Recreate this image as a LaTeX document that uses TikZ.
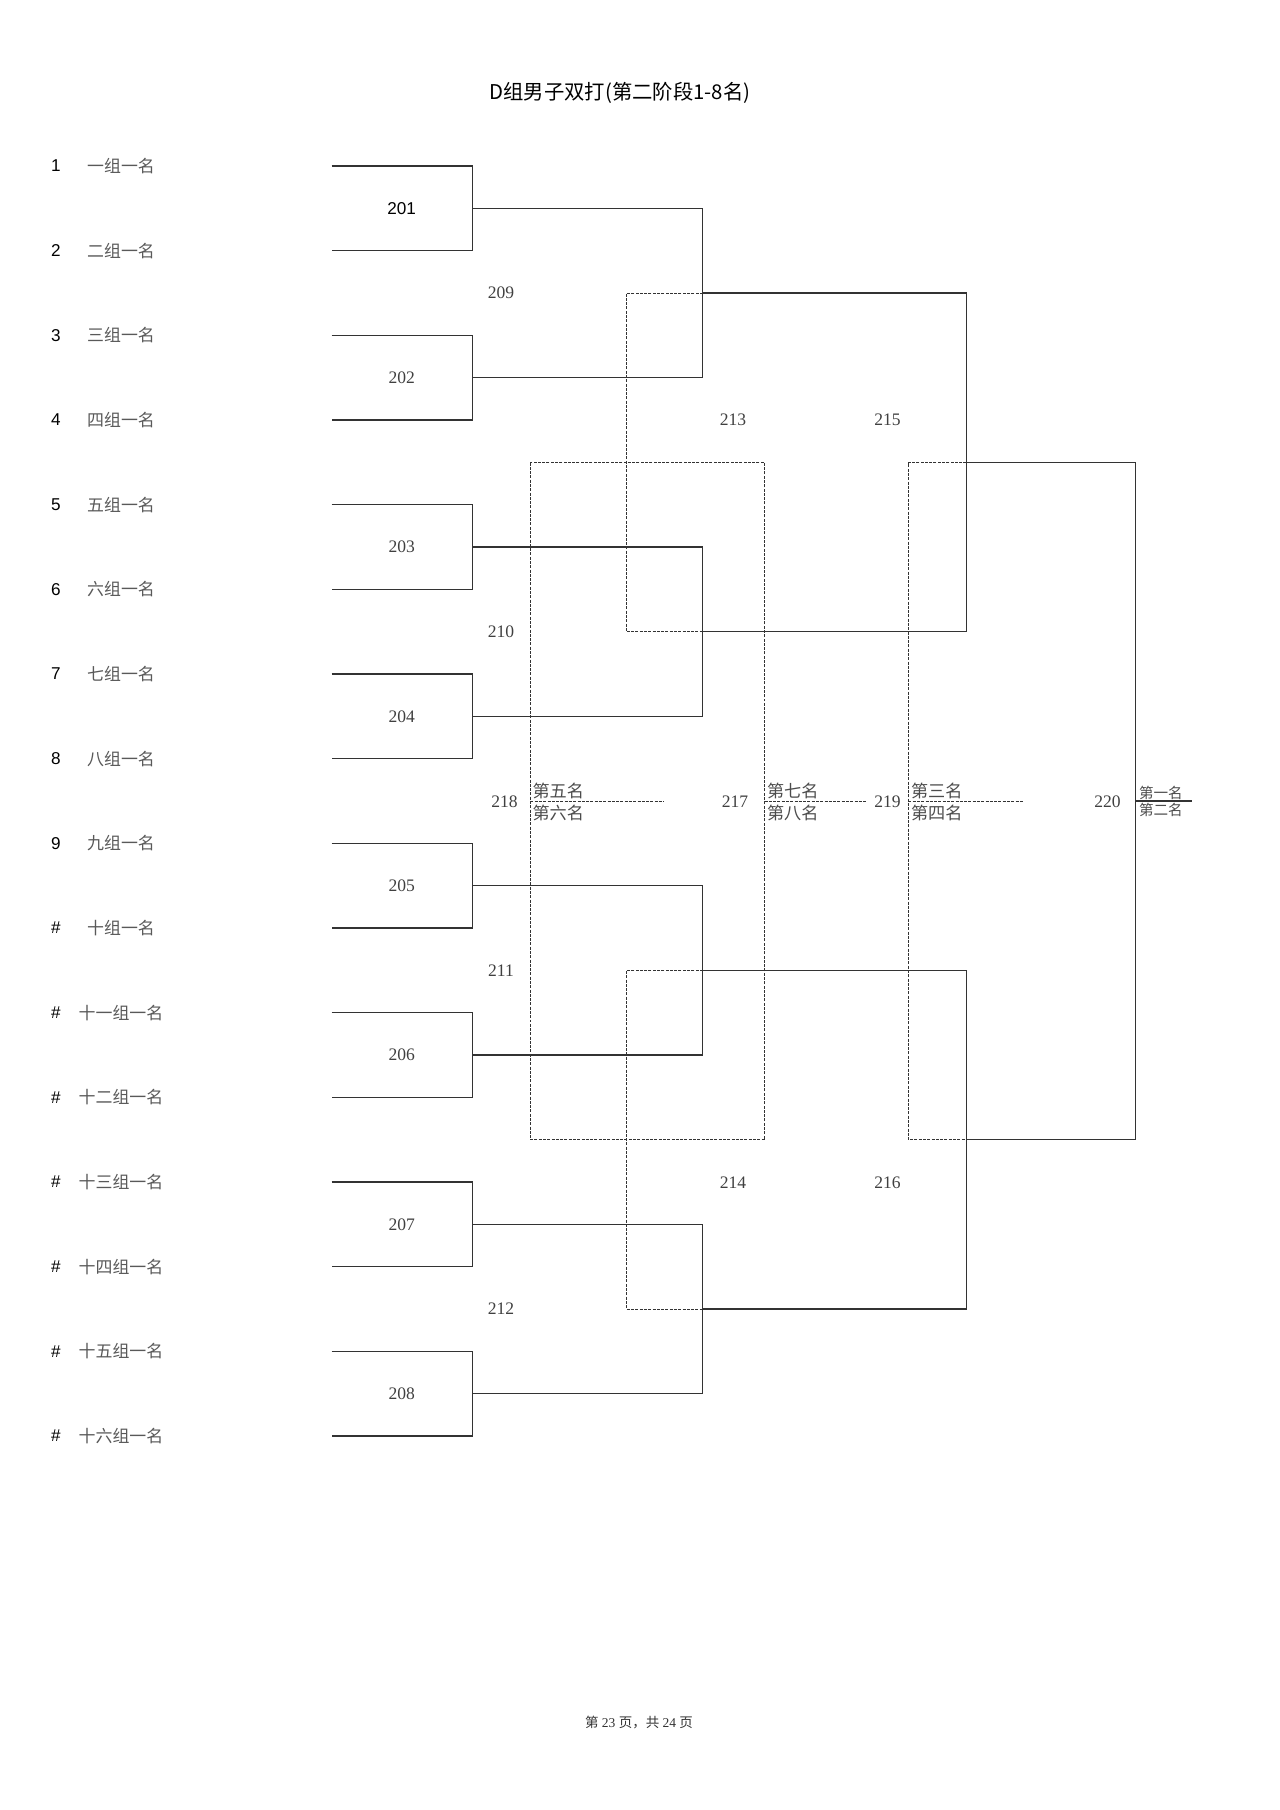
\documentclass[tikz,border=0pt]{standalone}
\usepackage{fontspec}
\setmainfont{Liberation Serif}
\setsansfont{Liberation Sans}
\newfontfamily\cjk{Noto Sans CJK SC}
\begin{document}
\begin{tikzpicture}[x=0.1640625mm, y=-0.1640625mm, line width=0.55pt, color=black!80,
  loser/.style={line width=0.45pt, dash pattern=on 1.4pt off 0.6pt},
  team/.style={font=\cjk\fontsize{7.9}{9}\selectfont, text=black!65, inner sep=0},
  seed/.style={font=\sffamily\fontsize{8}{9}\selectfont, text=black, inner sep=0},
  match/.style={font=\fontsize{8.2}{9}\selectfont, text=black!75, inner sep=0},
  place/.style={font=\cjk\fontsize{8}{9}\selectfont, text=black!70, inner sep=0, anchor=base west}]
  \useasboundingbox (0,0) rectangle (1280,1810);
  \node[font=\cjk\fontsize{9.5}{11}\selectfont, text=black] (title) at (620, 93) {D组男子双打(第二阶段1-8名)};

  \foreach \k/\s/\t in {1/1/一组一名, 2/2/二组一名, 3/3/三组一名, 4/4/四组一名,
      5/5/五组一名, 6/6/六组一名, 7/7/七组一名, 8/8/八组一名, 9/9/九组一名,
      10/\#/十组一名, 11/\#/十一组一名, 12/\#/十二组一名, 13/\#/十三组一名,
      14/\#/十四组一名, 15/\#/十五组一名, 16/\#/十六组一名} {
    \coordinate (r\k) at (331.7, {166+84.67*(\k-1)});
    \node[seed] (s\k) at (56, {166+84.67*(\k-1)}) {\s};
    \node[team] (n\k) at (121, {166+84.67*(\k-1)}) {\t};
  }

  \foreach \m in {1,...,8} {
    \pgfmathtruncatemacro\a{2*\m-1}
    \pgfmathtruncatemacro\b{2*\m}
    \coordinate (m20\m) at (472.7, {166+84.67*(2*\m-1.5)});
    \draw (r\a) -| (m20\m) |- (r\b);
  }
  \node[seed] (t201) at (401.7, 208.3) {201};
  \foreach \m in {2,...,8} {
    \node[match] (t20\m) at (401.7, {166+84.67*(2*\m-1.5)}) {20\m};
  }

  \foreach \n in {1,...,4} {
    \pgfmathtruncatemacro\a{200+2*\n-1}
    \pgfmathtruncatemacro\b{200+2*\n}
    \pgfmathtruncatemacro\c{208+\n}
    \coordinate (m\c) at (702.9, {166+84.67*(4*\n-2.5)});
    \draw (m\a) -| (m\c) |- (m\b);
    \node[match] (t\c) at (501, {166+84.67*(4*\n-2.5)}) {\c};
  }

  \coordinate (m213) at (966.4, 462.5);
  \coordinate (m214) at (966.4, 1139.7);
  \coordinate (d213) at (626.4, 462.5);
  \coordinate (d214) at (626.4, 1139.7);
  \draw (m209) -| (m213) |- (m210);
  \draw (m211) -| (m214) |- (m212);
  \draw[loser] (m209) -| (d213) |- (m210);
  \draw[loser] (m211) -| (d214) |- (m212);

  \coordinate (m220) at (1135.4, 801);
  \coordinate (d219) at (908.4, 801);
  \coordinate (d218) at (530.4, 801);
  \coordinate (d217) at (764.6, 801);
  \draw (m213) -| (m220) |- (m214);
  \draw[loser] (m213) -| (d219) |- (m214);
  \draw[loser] (d218 |- m213) rectangle (d217 |- m214);

  \coordinate (e218) at (664.4, 801);
  \coordinate (e217) at (867.3, 801);
  \coordinate (e219) at (1022.5, 801);
  \coordinate (w220) at (1192.4, 801);
  \draw[loser] (d218) -- (e218);
  \draw[loser] (d217) -- (e217);
  \draw[loser] (d219) -- (e219);
  \draw (m220) -- (w220);

  \node[match] (t213) at (733, 420) {213};
  \node[match] (t214) at (733, 1183) {214};
  \node[match] (t215) at (887.5, 420) {215};
  \node[match] (t216) at (887.5, 1183) {216};
  \node[match] (t218) at (504.5, 801.5) {218};
  \node[match] (t217) at (735, 801.5) {217};
  \node[match] (t219) at (887.5, 801.5) {219};
  \node[match] (t220) at (1107.5, 801.5) {220};

  \node[place] (p5) at (532, 797.1) {第五名};
  \node[place] (p6) at (532, 819.3) {第六名};
  \node[place] (p7) at (766.5, 797.1) {第七名};
  \node[place] (p8) at (766.5, 819.3) {第八名};
  \node[place] (p3) at (910.5, 797.1) {第三名};
  \node[place] (p4) at (910.5, 819.3) {第四名};
  \node[place, font=\cjk\fontsize{6.8}{8}\selectfont] (p1) at (1138.5, 798.3) {第一名};
  \node[place, font=\cjk\fontsize{6.8}{8}\selectfont] (p2) at (1138.5, 815.4) {第二名};

  \node[font=\fontsize{6.3}{7}\selectfont, text=black!80] (foot) at (639, 1722.7) {{\cjk 第}\ 23\ {\cjk 页，共}\ 24\ {\cjk 页}};
\end{tikzpicture}
\end{document}
